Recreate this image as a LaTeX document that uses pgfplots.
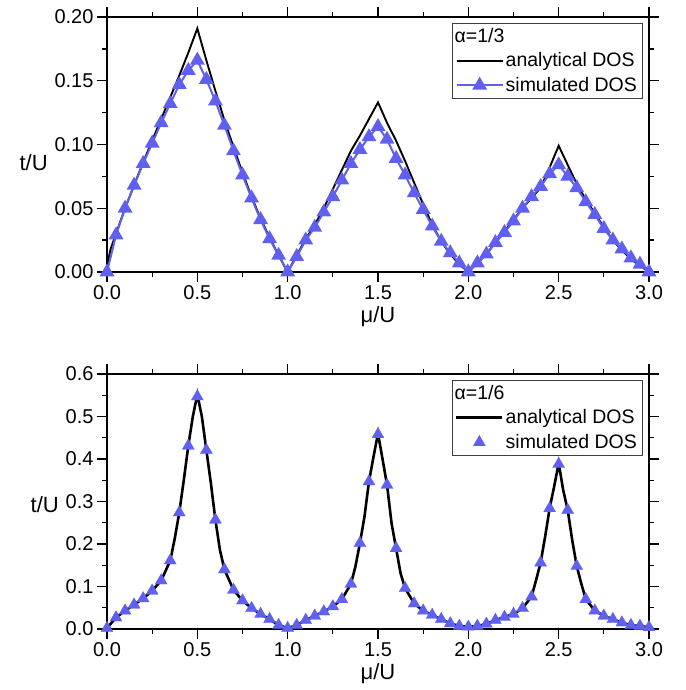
\documentclass[border=0pt]{standalone}
\usepackage{fontspec}
\setmainfont{Liberation Sans}
\usepackage{pgfplots}
\usepackage{pgfplotstable}
\pgfplotsset{compat=1.18}
\definecolor{simblue}{RGB}{96,96,240}

% alpha = 1/3
\pgfplotstableread{
x y
0 0
0.005 0.008
0.02 0.018
0.05 0.030
0.10 0.050
0.15 0.068
0.20 0.086
0.25 0.103
0.30 0.120
0.35 0.137
0.40 0.154
0.45 0.172
0.50 0.191
0.55 0.166
0.60 0.142
0.65 0.119
0.70 0.098
0.75 0.078
0.80 0.059
0.85 0.042
0.90 0.027
0.95 0.013
1.00 0
1.05 0.013
1.10 0.026
1.15 0.037
1.20 0.050
1.25 0.065
1.30 0.080
1.35 0.095
1.40 0.107
1.45 0.120
1.50 0.133
1.55 0.117
1.60 0.103
1.65 0.087
1.70 0.070
1.75 0.053
1.80 0.037
1.85 0.024
1.90 0.014
1.95 0.006
2.00 0
2.05 0.007
2.10 0.014
2.15 0.023
2.20 0.032
2.25 0.041
2.30 0.050
2.35 0.058
2.40 0.066
2.45 0.082
2.50 0.099
2.55 0.084
2.60 0.069
2.65 0.057
2.70 0.046
2.75 0.035
2.80 0.025
2.85 0.017
2.90 0.010
2.95 0.005
3.00 0
}\anaA

\pgfplotstableread{
x y
0 0
0.05 0.029
0.10 0.050
0.15 0.068
0.20 0.085
0.25 0.101
0.30 0.117
0.35 0.132
0.40 0.147
0.45 0.158
0.50 0.166
0.55 0.151
0.60 0.134
0.65 0.115
0.70 0.095
0.75 0.076
0.80 0.058
0.85 0.041
0.90 0.026
0.95 0.013
1.00 0.000
1.05 0.012
1.10 0.025
1.15 0.035
1.20 0.047
1.25 0.059
1.30 0.072
1.35 0.085
1.40 0.096
1.45 0.106
1.50 0.114
1.55 0.104
1.60 0.089
1.65 0.076
1.70 0.062
1.75 0.049
1.80 0.036
1.85 0.024
1.90 0.015
1.95 0.007
2.00 0.000
2.05 0.007
2.10 0.014
2.15 0.023
2.20 0.031
2.25 0.040
2.30 0.050
2.35 0.059
2.40 0.067
2.45 0.077
2.50 0.084
2.55 0.075
2.60 0.066
2.65 0.055
2.70 0.045
2.75 0.034
2.80 0.025
2.85 0.018
2.90 0.011
2.95 0.006
3.00 0.000
}\simA

% alpha = 1/6
\pgfplotstableread{
x y
0 0.002
0.05 0.027
0.10 0.043
0.15 0.057
0.20 0.072
0.25 0.090
0.30 0.114
0.35 0.161
0.375 0.213
0.40 0.274
0.425 0.350
0.45 0.431
0.475 0.500
0.50 0.552
0.525 0.500
0.55 0.421
0.575 0.343
0.60 0.257
0.625 0.186
0.65 0.140
0.70 0.092
0.75 0.067
0.80 0.049
0.85 0.035
0.90 0.023
0.95 0.009
1.00 0.002
1.05 0.009
1.10 0.021
1.15 0.031
1.20 0.041
1.25 0.053
1.30 0.070
1.35 0.106
1.375 0.147
1.40 0.202
1.425 0.264
1.45 0.347
1.475 0.405
1.50 0.460
1.525 0.400
1.55 0.339
1.575 0.249
1.60 0.190
1.625 0.131
1.65 0.096
1.70 0.060
1.75 0.043
1.80 0.033
1.85 0.023
1.90 0.013
1.95 0.007
2.00 0.005
2.05 0.007
2.10 0.012
2.15 0.021
2.20 0.028
2.25 0.035
2.30 0.049
2.35 0.076
2.375 0.115
2.40 0.156
2.425 0.217
2.45 0.284
2.475 0.335
2.50 0.390
2.525 0.327
2.55 0.280
2.575 0.209
2.60 0.148
2.625 0.107
2.65 0.070
2.70 0.043
2.75 0.031
2.80 0.023
2.85 0.015
2.90 0.009
2.95 0.007
3.00 0.004
}\anaB

\pgfplotstableread{
x y
0 0.002
0.05 0.027
0.10 0.043
0.15 0.057
0.20 0.072
0.25 0.090
0.30 0.114
0.35 0.161
0.40 0.274
0.45 0.431
0.50 0.547
0.55 0.421
0.60 0.257
0.65 0.140
0.70 0.092
0.75 0.067
0.80 0.049
0.85 0.035
0.90 0.023
0.95 0.009
1.00 0.002
1.05 0.009
1.10 0.021
1.15 0.031
1.20 0.041
1.25 0.053
1.30 0.070
1.35 0.106
1.40 0.202
1.45 0.347
1.50 0.458
1.55 0.339
1.60 0.190
1.65 0.096
1.70 0.060
1.75 0.043
1.80 0.033
1.85 0.023
1.90 0.013
1.95 0.007
2.00 0.005
2.05 0.007
2.10 0.012
2.15 0.021
2.20 0.028
2.25 0.035
2.30 0.049
2.35 0.076
2.40 0.156
2.45 0.284
2.50 0.388
2.55 0.280
2.60 0.148
2.65 0.070
2.70 0.043
2.75 0.031
2.80 0.023
2.85 0.015
2.90 0.009
2.95 0.007
3.00 0.004
}\simB

\pgfplotsset{
  dosaxis/.style={
    scale only axis, width=542pt, height=255pt,
    xmin=0, xmax=3, ymin=0,
    xtick={0,0.5,1,1.5,2,2.5,3}, minor x tick num=1, minor y tick num=1,
    tick align=outside, major tick length=10pt, minor tick length=5pt,
    axis line style={line width=1.6pt},
    tick style={black, line width=1.3pt},
    /pgf/number format/assume math mode=true,
    tick label style={font=\fontsize{20}{24}\selectfont},
    label style={font=\fontsize{22}{26}\selectfont},
    xticklabel style={/pgf/number format/.cd, fixed, fixed zerofill, precision=1},
    xlabel={μ/U}, ylabel={t/U},
    ylabel style={rotate=-90},
    legend cell align=left,
    legend style={at={(1,1)}, anchor=north east, xshift=-7pt, yshift=-6pt,
      draw=black!75, font=\fontsize{19.5}{23}\selectfont,
      inner xsep=3pt, inner ysep=3pt, row sep=5pt},
    legend image code/.code={\draw[mark repeat=2,mark phase=2,#1]
      plot coordinates {(0pt,0pt) (23pt,0pt) (46pt,0pt)};},
  }
}

\begin{document}
\begin{tikzpicture}
\begin{axis}[dosaxis, name=bot,
    ymax=0.6, ytick={0,0.1,...,0.6},
    yticklabel style={/pgf/number format/.cd, fixed, fixed zerofill, precision=1},
    ylabel style={at={(ticklabel cs:0.486)}}]
\addlegendimage{empty legend}
\addlegendentry{\hspace*{-51pt}α=1/6}
\addplot[black, line width=2.6pt] table {\anaB};
\addlegendentry{analytical DOS}
\addplot[simblue, only marks, mark=triangle*, mark size=7pt,
    mark options={fill=simblue, draw=simblue, line width=0.2pt}] table {\simB};
\addlegendentry{simulated DOS}
\end{axis}

\begin{axis}[dosaxis, name=top, at={(0,357pt)},
    ymax=0.2, ytick={0,0.05,...,0.2},
    yticklabel style={/pgf/number format/.cd, fixed, fixed zerofill, precision=2},
    ylabel style={at={(ticklabel cs:0.427)}}]
\addlegendimage{empty legend}
\addlegendentry{\hspace*{-51pt}α=1/3}
\addplot[black, line width=1.9pt] table {\anaA};
\addlegendentry{analytical DOS}
\addplot[simblue, line width=2pt, mark=triangle*, mark size=6.6pt,
    mark options={fill=simblue, draw=none}] table {\simA};
\addlegendentry{simulated DOS}
\end{axis}

\pgfresetboundingbox
\useasboundingbox ([xshift=-107pt,yshift=-61pt]bot.south west)
  rectangle ([xshift=36pt,yshift=17pt]top.north east);
\end{tikzpicture}
\end{document}
